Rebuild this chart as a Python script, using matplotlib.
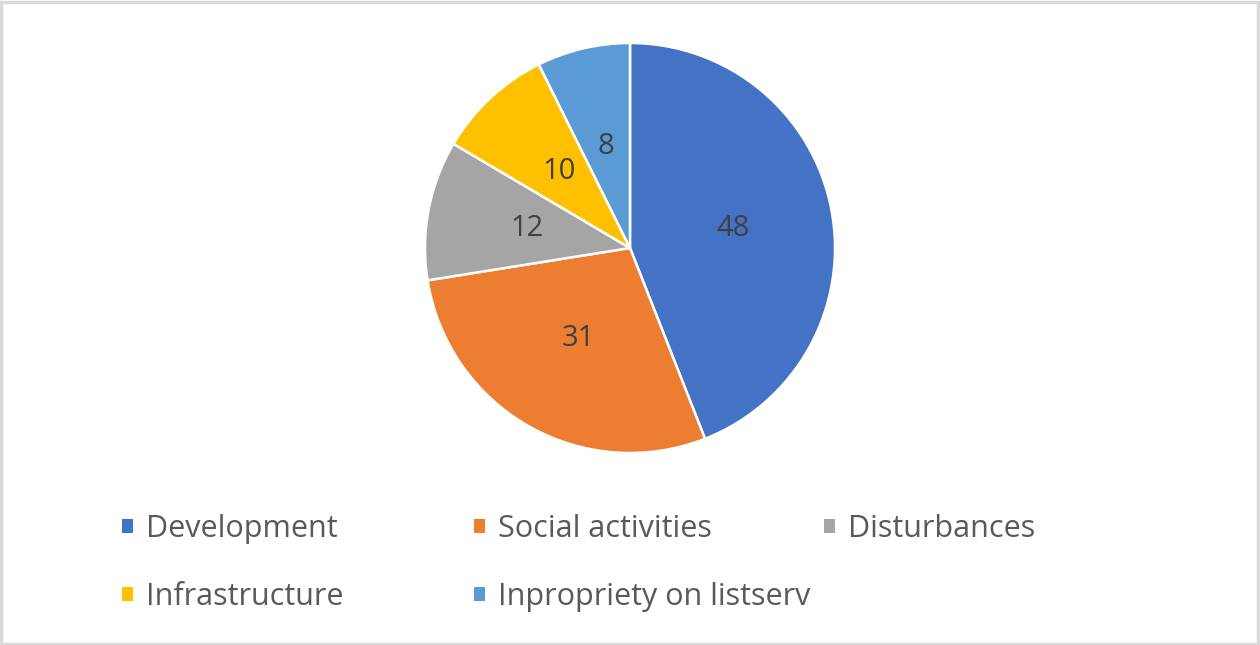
import matplotlib
matplotlib.use('Agg')
import matplotlib.pyplot as plt
from matplotlib.patches import Rectangle, Patch

# data
categories = ['Development', 'Social activities', 'Disturbances',
              'Infrastructure', 'Inpropriety on listserv']
values = [48, 31, 12, 10, 8]
colors = ['#4472C4', '#ED7D31', '#A5A5A5', '#FFC000', '#5B9BD5']

plt.rcParams['font.family'] = ['Open Sans', 'DejaVu Sans']

W, H = 1260, 645
fig = plt.figure(figsize=(W / 100, H / 100), dpi=100)

# pie axes: centre at (630, 248) px, radius 205 px
cx, cy, r = 630, 248, 205
ax = fig.add_axes([(cx - r) / W, (H - cy - r) / H, 2 * r / W, 2 * r / H])

wedges, texts, autotexts = ax.pie(
    values, colors=colors, startangle=90, counterclock=False,
    autopct=lambda p: '%d' % round(p * sum(values) / 100),
    pctdistance=0.51,
    wedgeprops=dict(edgecolor='white', linewidth=1.8),
    textprops=dict(color='#404040', fontsize=21))
for w in wedges:
    w.set_clip_on(False)
ax.set_xlim(-1, 1)
ax.set_ylim(-1, 1)
ax.set_aspect('auto')
ax.axis('off')

# legend, 3 equal-width columns
col_x = [122, 474, 824]
row_y = [529, 597]
for i, (lab, c) in enumerate(zip(categories, colors)):
    x = col_x[i % 3]
    y = row_y[i // 3]
    fig.legend(handles=[Patch(facecolor=c, label=lab)], loc='center left',
               bbox_to_anchor=(x / W, 1 - y / H), frameon=False,
               handlelength=0.37, handleheight=0.37, handletextpad=0.4,
               borderpad=0, borderaxespad=0, fontsize=22,
               labelcolor='#595959')

# light gray frame around the chart area
fig.patches.append(Rectangle((1 / W, 1 / H), 1 - 3 / W, 1 - 3 / H,
                             transform=fig.transFigure, fill=False,
                             edgecolor='#D9D9D9', linewidth=2.5))

fig.savefig('out.png', dpi=100)
